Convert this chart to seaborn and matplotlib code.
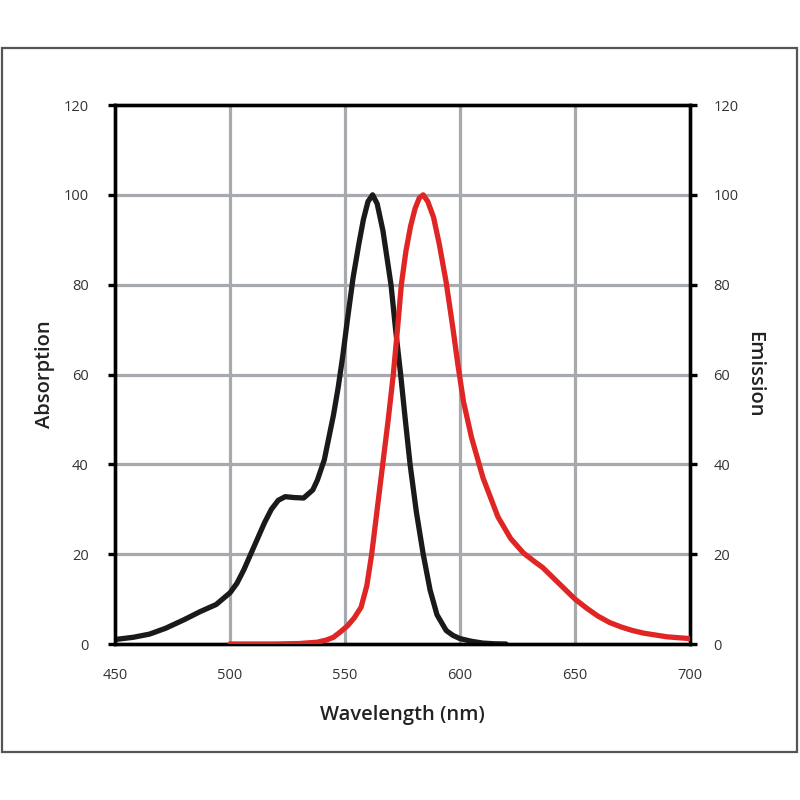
import matplotlib
matplotlib.use("Agg")
import matplotlib.pyplot as plt
import matplotlib.patches as patches
import pandas as pd
import seaborn as sns

# Absorption spectrum (black)
abs_nm = [450, 458, 465, 472, 480, 487, 494, 500, 503, 506, 509, 512, 515, 518,
          521, 524, 528, 532, 536, 538, 541, 543, 545, 547, 549, 551, 553.5, 556,
          558, 560, 562, 564, 566.5, 570, 572, 574.2, 576.2, 578.3, 581, 584,
          587, 590, 594, 597, 600, 605, 610, 615, 620]
abs_val = [1, 1.5, 2.2, 3.5, 5.4, 7.2, 8.8, 11.4, 13.5, 16.5, 20, 23.5, 27, 30,
           32, 32.8, 32.6, 32.5, 34.3, 36.5, 41, 46, 51, 57, 64, 72, 81.5, 89,
           94.5, 98.5, 100, 98, 92, 80, 70, 60, 50, 40, 29.5, 20, 12, 6.5, 3,
           1.9, 1.2, 0.6, 0.2, 0.05, 0]

# Emission spectrum (red)
em_nm = [500, 510, 520, 530, 538, 542, 545, 548, 551, 554, 557, 559.5, 561.6,
         564, 566.4, 568.8, 571, 572.8, 574.5, 576.5, 578.5, 580.5, 582.3, 584,
         586, 588.5, 591, 594, 597, 599, 601.5, 605, 610, 616.5, 622, 627.5,
         632, 636, 640, 645, 650, 655, 660, 665, 670, 675, 680, 685, 690, 695,
         700]
em_val = [0, 0, 0, 0.1, 0.4, 0.9, 1.5, 2.7, 4, 5.8, 8.2, 13, 20, 30, 40, 50,
          60, 70, 80, 87.5, 93, 97, 99.3, 100, 98.5, 95, 89, 80.5, 70, 62.5, 54,
          46, 37, 28.3, 23.5, 20.3, 18.5, 17, 15, 12.5, 10, 8, 6.2, 4.8, 3.8, 3,
          2.4, 2, 1.6, 1.4, 1.2]

x_ticks = [450, 500, 550, 600, 650, 700]
y_ticks = [0, 20, 40, 60, 80, 100, 120]

sns.set_style("white")
plt.rcParams["font.family"] = ["Open Sans", "DejaVu Sans"]

fig = plt.figure(figsize=(8, 8), dpi=100)
ax = fig.add_axes([0.14375, 0.195, 0.71875, 0.67375])
ax2 = ax.twinx()

grid_col = "#a6aaae"
for x in x_ticks[1:-1]:
    ax.axvline(x, color=grid_col, lw=2.3, zorder=0)
for y in y_ticks[1:-1]:
    ax.axhline(y, color=grid_col, lw=2.3, zorder=0)

absorb = pd.DataFrame({"nm": abs_nm, "val": abs_val})
emis = pd.DataFrame({"nm": em_nm, "val": em_val})
sns.lineplot(data=absorb, x="nm", y="val", color="#1a1a1a", lw=3.8, ax=ax,
             zorder=3, solid_joinstyle="round", solid_capstyle="round")
sns.lineplot(data=emis, x="nm", y="val", color="#e02525", lw=3.8, ax=ax2,
             zorder=3, solid_joinstyle="round", solid_capstyle="round")

for a in (ax, ax2):
    a.set_xlim(450, 700)
    a.set_ylim(0, 120)
    a.set_yticks(y_ticks)
    for s in a.spines.values():
        s.set_color("black")
        s.set_linewidth(2.4)
        s.set_visible(True)
    a.tick_params(colors="black", labelcolor="#333333", labelsize=10.5,
                  length=5, width=2.4, direction="out")

ax.set_xticks(x_ticks)
ax.tick_params(axis="x", pad=12)
ax.tick_params(axis="y", pad=14, left=True)
ax2.tick_params(axis="y", pad=12, right=True)
ax.set_xlabel("Wavelength (nm)", fontsize=14.5, fontweight="semibold",
              color="#222222", labelpad=16)
ax.set_ylabel("Absorption", fontsize=14.5, fontweight="semibold",
              color="#222222", labelpad=6)
ax2.set_ylabel("Emission", fontsize=14.5, fontweight="semibold", color="#222222",
               rotation=270, labelpad=18)

frame = patches.Rectangle((0.002, 0.06), 0.994, 0.88, transform=fig.transFigure,
                          fill=False, edgecolor="#555555", lw=1.6)
fig.patches.append(frame)

fig.savefig("out.png", dpi=100, facecolor="white")
